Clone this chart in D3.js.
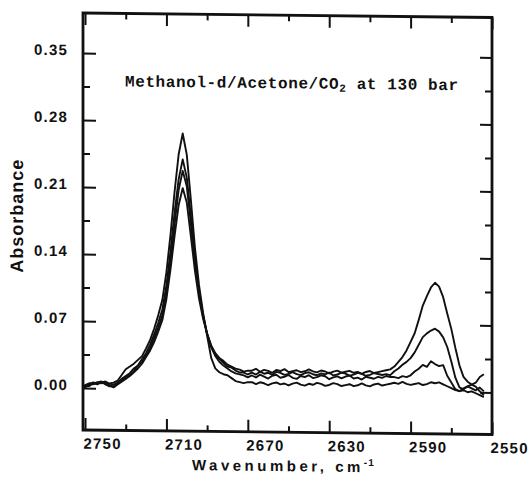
<!DOCTYPE html>
<html>
<head>
<meta charset="utf-8">
<script src="https://cdn.jsdelivr.net/npm/d3@7"></script>
<style>
  body { margin: 0; background: #fff; }
  svg { display: block; }
  .tick text { font-family: "Liberation Sans", Arial, sans-serif; font-weight: bold; font-size: 15px; fill: #111; letter-spacing: 1.2px; }
  .tick line { stroke: #111; stroke-width: 2; }
</style>
</head>
<body>
<div id="chart"></div>
<script>
// wavenumber grid (cm-1)
var wavenumber = [2751, 2748, 2746, 2744, 2742, 2740, 2738, 2736, 2734, 2732, 2730, 2728, 2726, 2724, 2722, 2720, 2718, 2716, 2714, 2712, 2710, 2708, 2706, 2704, 2702, 2700, 2698, 2696, 2694, 2692, 2690, 2688, 2686, 2684, 2682, 2680, 2678, 2676, 2674, 2672, 2670, 2668, 2666, 2664, 2662, 2660, 2658, 2656, 2654, 2652, 2650, 2648, 2646, 2644, 2642, 2640, 2638, 2636, 2634, 2632, 2630, 2628, 2626, 2624, 2622, 2620, 2618, 2616, 2614, 2612, 2610, 2608, 2606, 2604, 2602, 2600, 2598, 2596, 2594, 2592, 2590, 2588, 2586, 2584, 2582, 2580, 2578, 2576, 2574, 2572, 2570, 2568, 2566, 2564, 2562, 2560, 2558, 2556, 2554];

// four spectra, tallest 2710 band first
var spectrum1 = [0.001, 0.004, 0.006, 0.005, 0.006, 0.007, 0.005, 0.006,
	0.008, 0.014, 0.020, 0.023, 0.026, 0.030, 0.034, 0.042, 0.051, 0.063, 0.077, 0.093, 0.122, 0.161, 0.206, 0.245, 0.267, 0.245, 0.198, 0.148, 0.109, 0.080, 0.056, 0.033, 0.022, 0.018, 0.016, 0.015, 0.012, 0.009, 0.008, 0.007, 0.008,
	0.008, 0.006, 0.008, 0.007, 0.005, 0.007, 0.008, 0.006, 0.007, 0.005, 0.007, 0.008, 0.006, 0.005, 0.007, 0.006, 0.008, 0.007, 0.005, 0.006, 0.008, 0.007, 0.005, 0.006, 0.007, 0.005, 0.006, 0.008, 0.006, 0.005, 0.007, 0.008, 0.006, 0.007, 0.008,
	0.009, 0.008, 0.010, 0.008, 0.007, 0.008, 0.009, 0.007, 0.008, 0.010, 0.009, 0.010, 0.008, 0.006, 0.004, 0.002, 0.001, 0.002, 0.000, 0.001, -0.001, -0.003, -0.005];

var spectrum2 = [0.000, 0.003, 0.005, 0.006, 0.005, 0.006, 0.003, 0.004,
	0.006, 0.010, 0.013, 0.016, 0.021, 0.024, 0.031, 0.037, 0.046, 0.057, 0.069, 0.083, 0.108, 0.144, 0.184, 0.219, 0.240, 0.221, 0.181, 0.138, 0.103, 0.078, 0.058, 0.044, 0.035, 0.029, 0.025, 0.022, 0.019, 0.017, 0.016, 0.015, 0.013,
	0.015, 0.013, 0.016, 0.014, 0.012, 0.015, 0.016, 0.013, 0.014, 0.016, 0.013, 0.012, 0.015, 0.014, 0.016, 0.013, 0.014, 0.016, 0.015, 0.012, 0.014, 0.015, 0.013, 0.015, 0.016, 0.013, 0.014, 0.012, 0.015, 0.014, 0.013, 0.015, 0.014, 0.016, 0.015,
	0.015, 0.014, 0.016, 0.015, 0.017, 0.021, 0.024, 0.028, 0.026, 0.032, 0.029, 0.027, 0.028, 0.017, 0.010, 0.003, 0.001, 0.004, 0.006, 0.008, 0.010, 0.016, 0.019];

var spectrum3 = [0.002, 0.005, 0.004, 0.006, 0.007, 0.004, 0.002, 0.002,
	0.005, 0.008, 0.012, 0.014, 0.018, 0.024, 0.028, 0.035, 0.042, 0.053, 0.064, 0.077, 0.101, 0.134, 0.172, 0.208, 0.228, 0.212, 0.173, 0.133, 0.100, 0.076, 0.058, 0.045, 0.037, 0.032, 0.028, 0.024, 0.023, 0.020, 0.018, 0.018, 0.016,
	0.018, 0.016, 0.019, 0.017, 0.018, 0.016, 0.019, 0.018, 0.016, 0.017, 0.019, 0.017, 0.016, 0.018, 0.019, 0.017, 0.016, 0.018, 0.017, 0.019, 0.016, 0.017, 0.019, 0.018, 0.016, 0.017, 0.019, 0.018, 0.016, 0.017, 0.019, 0.018, 0.017, 0.018, 0.017,
	0.021, 0.024, 0.028, 0.031, 0.035, 0.041, 0.049, 0.057, 0.061, 0.064, 0.066, 0.063, 0.057, 0.047, 0.032, 0.015, 0.005, 0.003, 0.006, 0.004, 0.002, 0.005, 0.001];

var spectrum4 = [0.001, 0.002, 0.005, 0.004, 0.006, 0.005, 0.003, 0.001,
	0.004, 0.007, 0.010, 0.013, 0.017, 0.021, 0.026, 0.033, 0.040, 0.049, 0.060, 0.072, 0.094, 0.125, 0.160, 0.192, 0.210, 0.195, 0.160, 0.124, 0.095, 0.074, 0.058, 0.046, 0.038, 0.033, 0.030, 0.026, 0.024, 0.022, 0.021, 0.019, 0.020,
	0.020, 0.022, 0.019, 0.021, 0.020, 0.018, 0.021, 0.020, 0.022, 0.019, 0.020, 0.021, 0.019, 0.020, 0.022, 0.020, 0.019, 0.021, 0.020, 0.018, 0.020, 0.021, 0.019, 0.020, 0.021, 0.019, 0.020, 0.018, 0.020, 0.021, 0.019, 0.020, 0.021, 0.022, 0.023,
	0.026, 0.031, 0.036, 0.043, 0.052, 0.061, 0.075, 0.090, 0.100, 0.109, 0.114, 0.110, 0.099, 0.082, 0.066, 0.046, 0.028, 0.016, 0.011, 0.008, 0.006, 0.001, -0.003];

var xTicks = [2750, 2710, 2670, 2630, 2590, 2550];
var xMinor = [2730, 2690, 2650, 2610, 2570];
var yTicks = [0.00, 0.07, 0.14, 0.21, 0.28, 0.35];
var yMinor = [0.035, 0.105, 0.175, 0.245, 0.315];

function draw(){
	var width = 532, height = 478;
	var plotLeft = 83, plotRight = 492, plotTop = 13, plotBottom = 430;
	var shear = 0.011; // the scan sits slightly lower on its right side

	var svg = d3.select('#chart').append('svg')
		.attr('width', width)
		.attr('height', height)
		.style('background', '#fff');

	var g = svg.append('g')
		.attr('transform', 'matrix(1,' + shear + ',0,1,0,' + (-shear * plotLeft) + ')');

	var x = d3.scaleLinear().domain([2751, 2550]).range([plotLeft, plotRight]);
	var y = d3.scaleLinear().domain([-0.0439, 0.3918]).range([plotBottom, plotTop]);

	function noDomain(sel){ sel.select('.domain').remove(); }

	// bottom axis
	g.append('g').attr('transform', 'translate(0,' + plotBottom + ')')
		.call(d3.axisBottom(x).tickValues(xTicks).tickSize(-12).tickPadding(8).tickFormat(d3.format('d')))
		.call(noDomain)
		.call(a => a.selectAll('text').attr('text-anchor', 'start').attr('x', -2));
	g.append('g').attr('transform', 'translate(0,' + plotBottom + ')')
		.call(d3.axisBottom(x).tickValues(xMinor).tickSize(-6).tickFormat(''))
		.call(noDomain);

	// top axis
	g.append('g').attr('transform', 'translate(0,' + plotTop + ')')
		.call(d3.axisTop(x).tickValues(xTicks).tickSize(-12).tickFormat(''))
		.call(noDomain);
	g.append('g').attr('transform', 'translate(0,' + plotTop + ')')
		.call(d3.axisTop(x).tickValues(xMinor).tickSize(-6).tickFormat(''))
		.call(noDomain);

	// left axis
	g.append('g').attr('transform', 'translate(' + plotLeft + ',0)')
		.call(d3.axisLeft(y).tickValues(yTicks).tickSize(-13).tickPadding(15).tickFormat(d3.format('.2f')))
		.call(noDomain)
		.call(a => a.selectAll('text').attr('dy', '0.12em'));
	g.append('g').attr('transform', 'translate(' + plotLeft + ',0)')
		.call(d3.axisLeft(y).tickValues(yMinor).tickSize(-7).tickFormat(''))
		.call(noDomain);

	// right axis
	g.append('g').attr('transform', 'translate(' + plotRight + ',0)')
		.call(d3.axisRight(y).tickValues(yTicks).tickSize(-12).tickFormat(''))
		.call(noDomain);
	g.append('g').attr('transform', 'translate(' + plotRight + ',0)')
		.call(d3.axisRight(y).tickValues(yMinor).tickSize(-7).tickFormat(''))
		.call(noDomain);

	// frame
	g.append('rect')
		.attr('x', plotLeft).attr('y', plotTop)
		.attr('width', plotRight - plotLeft).attr('height', plotBottom - plotTop)
		.attr('fill', 'none')
		.attr('stroke', '#111')
		.attr('stroke-width', 2.8);

	// spectra
	var line = d3.line()
		.x(d => x(d[0]))
		.y(d => y(d[1]));

	[spectrum1, spectrum2, spectrum3, spectrum4].forEach(s => {
		g.append('path')
			.datum(d3.zip(wavenumber, s))
			.attr('d', line)
			.attr('fill', 'none')
			.attr('stroke', '#111')
			.attr('stroke-width', 1.9)
			.attr('stroke-linejoin', 'round');
	});

	// title
	var title = g.append('text')
		.attr('x', 125).attr('y', 86)
		.style('font-family', '"Liberation Mono", "Courier New", monospace')
		.style('font-weight', 'bold')
		.style('font-size', '16px')
		.style('letter-spacing', '0.6px')
		.attr('fill', '#111');
	title.append('tspan').text('Methanol-d/Acetone/CO');
	title.append('tspan').attr('dy', 3).style('font-size', '11px').text('2');
	title.append('tspan').attr('dy', -3).text(' at 130 bar');

	// axis labels
	g.append('text')
		.attr('transform', 'translate(23,217) rotate(-90)')
		.attr('text-anchor', 'middle')
		.attr('textLength', 113)
		.attr('lengthAdjust', 'spacing')
		.style('font-family', '"Liberation Sans", Arial, sans-serif')
		.style('font-weight', 'bold')
		.style('font-size', '18px')
		.attr('fill', '#111')
		.text('Absorbance');

	var xl = g.append('text')
		.attr('x', 192).attr('y', 469)
		.style('font-family', '"Liberation Sans", Arial, sans-serif')
		.style('font-weight', 'bold')
		.style('font-size', '15px')
		.style('letter-spacing', '3.5px')
		.attr('fill', '#111');
	xl.append('tspan').text('Wavenumber, cm');
	xl.append('tspan').attr('dy', -6).style('font-size', '10px').style('letter-spacing', '1px').text('-1');
}

draw();
</script>
</body>
</html>
